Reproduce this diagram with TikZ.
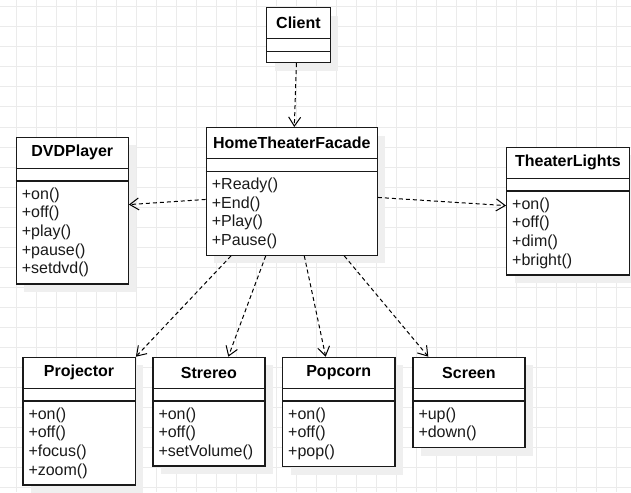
\documentclass[tikz,border=0pt]{standalone}
\usepackage{fontspec}
\setmainfont{Liberation Sans}
\usetikzlibrary{arrows.meta,calc,shadows}
\definecolor{gridgray}{HTML}{EBEBEB}
\definecolor{shadegray}{HTML}{EFEFEF}
\definecolor{linecol}{HTML}{1A1A1A}
\tikzset{
  umlbox/.style={draw=linecol, line width=1.2pt, fill=white, inner sep=0pt,
    general shadow={fill=shadegray, shadow xshift=8pt, shadow yshift=-8pt}},
  umlline/.style={draw=linecol, line width=1.2pt},
  umltitle/.style={font=\fontsize{16}{18}\selectfont\bfseries, inner sep=0pt, text=black},
  umlops/.style={font=\fontsize{16}{18.7}\selectfont, inner sep=0pt, align=left, anchor=north west, text=linecol},
  dep/.style={draw=black, line width=1pt, dash pattern=on 4pt off 3pt,
    -{Straight Barb[length=9pt,width=12pt,line width=1pt]}},
  gridline/.style={draw=gridgray, line width=1pt}
}
\newcommand{\classbox}[7]{%
  \node[umlbox, minimum width=#4, minimum height=#5, anchor=north west] (#1) at (#2,#3) {};
  \node[umltitle] (#1-title) at ($(#1.north)+(0,15.8)$) {#6};
  \draw[umlline] ($(#1.north west)+(0,31.6)$) -- ($(#1.north east)+(0,31.6)$);
  \draw[umlline] ($(#1.north west)+(0,44.3)$) -- ($(#1.north east)+(0,44.3)$);
  \node[umlops] (#1-ops) at ($(#1.north west)+(6,50.6)$) {#7};
}
\begin{document}
\begin{tikzpicture}[x=1pt,y=-1pt]
\clip (0,0) rectangle (631,492);
\fill[white] (0,0) rectangle (631,492);
\foreach \gx in {16,36,...,636} {\draw[gridline] (\gx,0) -- (\gx,492);}
\foreach \gy in {7,27,...,497} {\draw[gridline] (0,\gy) -- (631,\gy);}

\classbox{client}{266}{7}{63.7}{55}{Client}{}
\classbox{facade}{205.7}{127}{171}{127.7}{HomeTheaterFacade}{+Ready()\\+End()\\+Play()\\+Pause()}
\classbox{dvd}{15.7}{136.7}{112}{146.6}{DVDPlayer}{+on()\\+off()\\+play()\\+pause()\\+setdvd()}
\classbox{lights}{506}{146.7}{122.7}{127.6}{TheaterLights}{+on()\\+off()\\+dim()\\+bright()}
\classbox{projector}{22.3}{356.7}{112.4}{127.6}{Projector}{+on()\\+off()\\+focus()\\+zoom()}
\classbox{stereo}{152.3}{356.7}{112}{108.6}{Strereo}{+on()\\+off()\\+setVolume()}
\classbox{popcorn}{282}{356.7}{112.3}{109.3}{Popcorn}{+on()\\+off()\\+pop()}
\classbox{screen}{412.3}{356.7}{112}{90.3}{Screen}{+up()\\+down()}

\draw[dep] ([xshift=-2pt]client.south) -- ([xshift=2.5pt]facade.north);
\draw[dep] ([yshift=-8pt]facade.west) -- ([yshift=6pt]dvd.east);
\draw[dep] ([yshift=-6pt]facade.east) -- ([yshift=5.5pt]lights.west);
\draw[dep] ([xshift=25.3pt]facade.south west) -- (projector.north east);
\draw[dep] ([xshift=60pt]facade.south west) -- ([xshift=76pt]stereo.north west);
\draw[dep] ([xshift=98.6pt]facade.south west) -- ([xshift=43.7pt]popcorn.north west);
\draw[dep] ([xshift=138.6pt]facade.south west) -- ([xshift=16pt]screen.north west);
\end{tikzpicture}
\end{document}
